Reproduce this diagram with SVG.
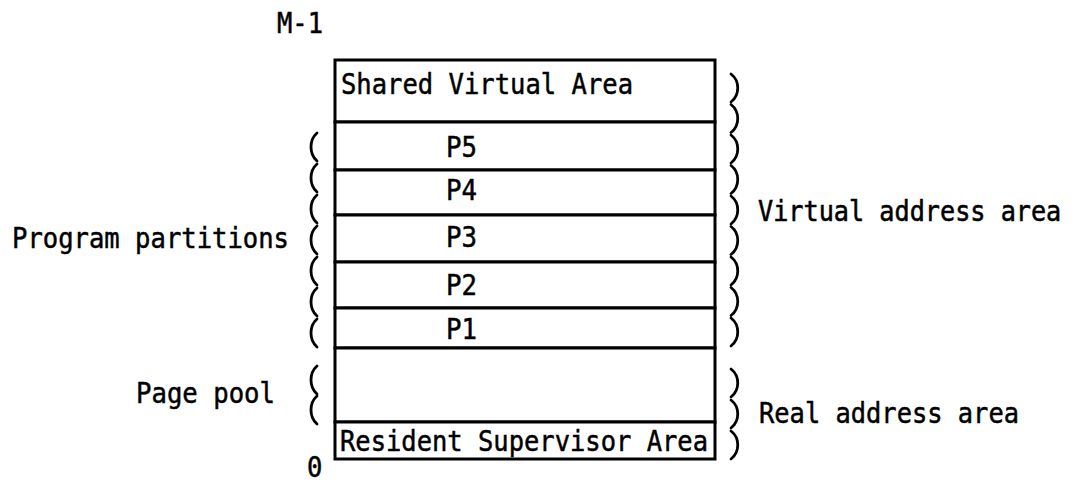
<svg xmlns="http://www.w3.org/2000/svg" width="1082" height="483" viewBox="0 0 1082 483">
  <style>
    .t { font-family: "DejaVu Sans Mono", "Liberation Mono", monospace; font-size: 28.5px; fill: #000; stroke: #000; stroke-width: 0.5; }
    .cell { fill: #fff; stroke: #000; stroke-width: 3; }
    .brace { fill: none; stroke: #000; stroke-width: 2.8; stroke-linecap: round; }
  </style>
  <defs>
    <!-- one typed bracket stroke, 30 px tall -->
    <path id="rp" d="M0,1 C9,8 9,22 0,29"/>
    <path id="lp" d="M0,1 C-8,8 -8,22 0,29"/>
  </defs>
  <rect width="1082" height="483" fill="#fff"/>

  <!-- address limits -->
  <g id="label-top"><text class="t" x="277" y="33" textLength="46" lengthAdjust="spacingAndGlyphs">M-1</text></g>
  <g id="label-bottom"><text class="t" x="307" y="477" textLength="15.4" lengthAdjust="spacingAndGlyphs">0</text></g>

  <!-- memory map rows -->
  <g id="shared-virtual-area">
    <rect class="cell" x="335" y="60" width="380" height="62"/>
    <text class="t" x="341" y="94" textLength="292" lengthAdjust="spacingAndGlyphs">Shared Virtual Area</text>
  </g>
  <g id="p5">
    <rect class="cell" x="335" y="122" width="380" height="48"/>
    <text class="t" x="446" y="157" textLength="31" lengthAdjust="spacingAndGlyphs">P5</text>
  </g>
  <g id="p4">
    <rect class="cell" x="335" y="170" width="380" height="45"/>
    <text class="t" x="446" y="200" textLength="31" lengthAdjust="spacingAndGlyphs">P4</text>
  </g>
  <g id="p3">
    <rect class="cell" x="335" y="215" width="380" height="47"/>
    <text class="t" x="446" y="247" textLength="31" lengthAdjust="spacingAndGlyphs">P3</text>
  </g>
  <g id="p2">
    <rect class="cell" x="335" y="262" width="380" height="46"/>
    <text class="t" x="446" y="295" textLength="31" lengthAdjust="spacingAndGlyphs">P2</text>
  </g>
  <g id="p1">
    <rect class="cell" x="335" y="308" width="380" height="40"/>
    <text class="t" x="446" y="339" textLength="31" lengthAdjust="spacingAndGlyphs">P1</text>
  </g>
  <g id="page-pool">
    <rect class="cell" x="335" y="348" width="380" height="74"/>
  </g>
  <g id="resident-supervisor-area">
    <rect class="cell" x="335" y="422" width="380" height="37"/>
    <text class="t" x="340" y="451" textLength="368" lengthAdjust="spacingAndGlyphs">Resident Supervisor Area</text>
  </g>

  <!-- side labels -->
  <g id="label-program-partitions"><text class="t" x="12" y="248" textLength="277" lengthAdjust="spacingAndGlyphs">Program partitions</text></g>
  <g id="label-page-pool"><text class="t" x="136" y="403" textLength="139" lengthAdjust="spacingAndGlyphs">Page pool</text></g>
  <g id="label-virtual"><text class="t" transform="translate(758 221) scale(1 1.13)" x="0" y="0" style="font-size:25.2px">Virtual address area</text></g>
  <g id="label-real"><text class="t" x="759" y="423" textLength="260" lengthAdjust="spacingAndGlyphs">Real address area</text></g>

  <!-- typed bracket columns -->
  <g id="connectors" class="brace">
    <!-- left: program partitions -->
    <use href="#lp" x="317" y="132"/>
    <use href="#lp" x="317" y="163"/>
    <use href="#lp" x="317" y="194"/>
    <use href="#lp" x="317" y="225"/>
    <use href="#lp" x="317" y="256"/>
    <use href="#lp" x="317" y="287"/>
    <use href="#lp" x="317" y="318"/>
    <!-- left: page pool -->
    <use href="#lp" x="317" y="365"/>
    <use href="#lp" x="317" y="395"/>
    <!-- right: virtual address area -->
    <use href="#rp" x="731" y="73"/>
    <use href="#rp" x="731" y="103.5"/>
    <use href="#rp" x="731" y="134"/>
    <use href="#rp" x="731" y="164.5"/>
    <use href="#rp" x="731" y="195"/>
    <use href="#rp" x="731" y="225.5"/>
    <use href="#rp" x="731" y="256"/>
    <use href="#rp" x="731" y="286.5"/>
    <use href="#rp" x="731" y="317"/>
    <!-- right: real address area -->
    <use href="#rp" x="731" y="368"/>
    <use href="#rp" x="731" y="399"/>
    <use href="#rp" x="731" y="430"/>
  </g>
</svg>
